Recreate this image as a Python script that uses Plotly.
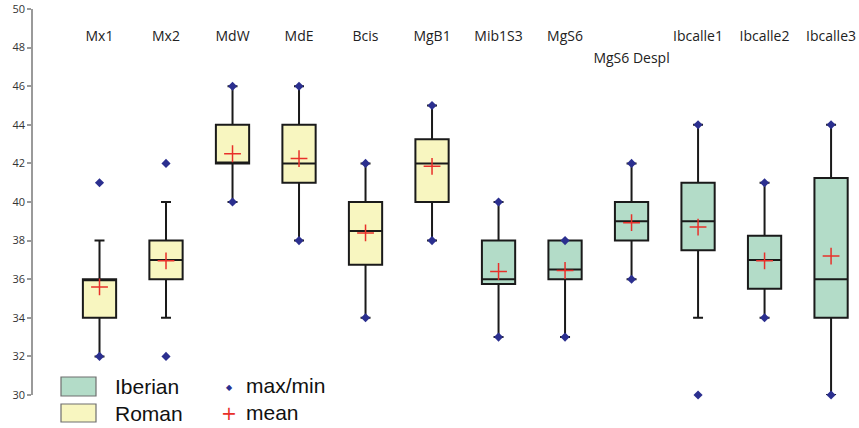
import plotly.graph_objects as go

# ---- data ----
labels = ["Mx1", "Mx2", "MdW", "MdE", "Bcis", "MgB1", "Mib1S3", "MgS6",
          "MgS6 Despl", "Ibcalle1", "Ibcalle2", "Ibcalle3"]
groups = ["Roman", "Roman", "Roman", "Roman", "Roman", "Roman",
          "Iberian", "Iberian", "Iberian", "Iberian", "Iberian", "Iberian"]
q1 = [34, 36, 42, 41, 36.75, 40, 35.75, 36, 38, 37.5, 35.5, 34]
median = [36, 37, 42, 42, 38.5, 42, 36, 36.5, 39, 39, 37, 36]
q3 = [36, 38, 44, 44, 40, 43.25, 38, 38, 40, 41, 38.25, 41.25]
whisk_lo = [32, 34, 40, 38, 34, 38, 33, 33, 36, 34, 34, 30]
whisk_hi = [38, 40, 46, 46, 42, 45, 40, 38, 42, 44, 41, 44]
vmin = [32, 32, 40, 38, 34, 38, 33, 33, 36, 30, 34, 30]
vmax = [41, 42, 46, 46, 42, 45, 40, 38, 42, 44, 41, 44]
means = [35.6, 36.95, 42.5, 42.25, 38.4, 41.85, 36.4, 36.45, 38.93, 38.7, 36.95, 37.2]
label_y = [48.5, 48.5, 48.5, 48.5, 48.5, 48.5, 48.5, 48.5, 47.4, 48.5, 48.5, 48.5]
y_ticks = [30, 32, 34, 36, 38, 40, 42, 44, 46, 48, 50]

colors = {"Iberian": "#b3dcc8", "Roman": "#f8f6c0"}

pos = list(range(1, len(labels) + 1))

fig = go.Figure()

for g in ["Roman", "Iberian"]:
    idx = [i for i, gg in enumerate(groups) if gg == g]
    fig.add_trace(go.Box(
        x=[pos[i] for i in idx],
        q1=[q1[i] for i in idx],
        median=[median[i] for i in idx],
        q3=[q3[i] for i in idx],
        lowerfence=[whisk_lo[i] for i in idx],
        upperfence=[whisk_hi[i] for i in idx],
        fillcolor=colors[g],
        line=dict(color="#1a1a1a", width=2),
        width=0.5,
        whiskerwidth=0.3,
        boxpoints=False,
        hoverinfo="skip",
        showlegend=False,
        name=g,
    ))

# max/min diamonds
fig.add_trace(go.Scatter(
    x=pos + pos, y=vmax + vmin, mode="markers",
    marker=dict(symbol="diamond", size=7, color="#2b2f8f"),
    showlegend=False, hoverinfo="skip", cliponaxis=False,
))
# means
fig.add_trace(go.Scatter(
    x=pos, y=means, mode="markers",
    marker=dict(symbol="cross-thin", size=12,
                line=dict(color="#e8302a", width=1.5)),
    showlegend=False, hoverinfo="skip",
))
# category labels
fig.add_trace(go.Scatter(
    x=pos, y=label_y, mode="text", text=labels,
    textfont=dict(family="Open Sans", size=14, color="#222"),
    showlegend=False, hoverinfo="skip", cliponaxis=False,
))

# ---- manual legend ----
shapes = []
annotations = []
H, W = 428, 859
PT, PB, PL = 9, 395, 33


def px_x(px):
    return (px - PL) / (W - PL)


def px_y(py):
    return (PB - py) / (PB - PT)


leg = [("Iberian", colors["Iberian"], 377, 396), ("Roman", colors["Roman"], 404, 422)]
for name, col, ytop, ybot in leg:
    shapes.append(dict(type="rect", xref="paper", yref="paper",
                       x0=px_x(61), x1=px_x(96), y0=px_y(ybot), y1=px_y(ytop),
                       fillcolor=col, line=dict(color="#6e6e6e", width=1.2)))
    annotations.append(dict(xref="paper", yref="paper",
                            x=px_x(113), y=px_y((ytop + ybot) / 2),
                            xanchor="left", yanchor="middle", showarrow=False,
                            text=name, font=dict(family="Liberation Sans", size=21, color="#111")))
annotations.append(dict(xref="paper", yref="paper", x=px_x(229), y=px_y(387),
                        xanchor="center", yanchor="middle", showarrow=False,
                        text="◆", font=dict(family="DejaVu Sans", size=8, color="#2b2f8f")))
annotations.append(dict(xref="paper", yref="paper", x=px_x(229), y=px_y(413),
                        xanchor="center", yanchor="middle", showarrow=False,
                        text="+", font=dict(family="DejaVu Sans", size=19, color="#e8302a")))
annotations.append(dict(xref="paper", yref="paper", x=px_x(244), y=px_y(385),
                        xanchor="left", yanchor="middle", showarrow=False,
                        text="max/min", font=dict(family="Liberation Sans", size=21, color="#111")))
annotations.append(dict(xref="paper", yref="paper", x=px_x(244), y=px_y(412),
                        xanchor="left", yanchor="middle", showarrow=False,
                        text="mean", font=dict(family="Liberation Sans", size=21, color="#111")))

fig.update_layout(
    width=W, height=H,
    margin=dict(l=PL, r=0, t=PT, b=H - PB),
    paper_bgcolor="white", plot_bgcolor="white",
    shapes=shapes, annotations=annotations,
    xaxis=dict(range=[0, 12.42], showgrid=False, zeroline=False,
               showticklabels=False, showline=False, ticks=""),
    yaxis=dict(range=[30, 50], tickvals=y_ticks, showgrid=False, zeroline=False,
               showline=True, linecolor="#9a9a9a", linewidth=1.5,
               ticks="outside", ticklen=4, tickcolor="#9a9a9a", tickwidth=1.5,
               tickfont=dict(family="Open Sans", size=11, color="#333")),
    boxgap=0, boxgroupgap=0,
)

fig.write_html("out.html", config={"displayModeBar": False},
               post_script="document.body.style.margin='0';document.body.style.overflow='hidden';")
